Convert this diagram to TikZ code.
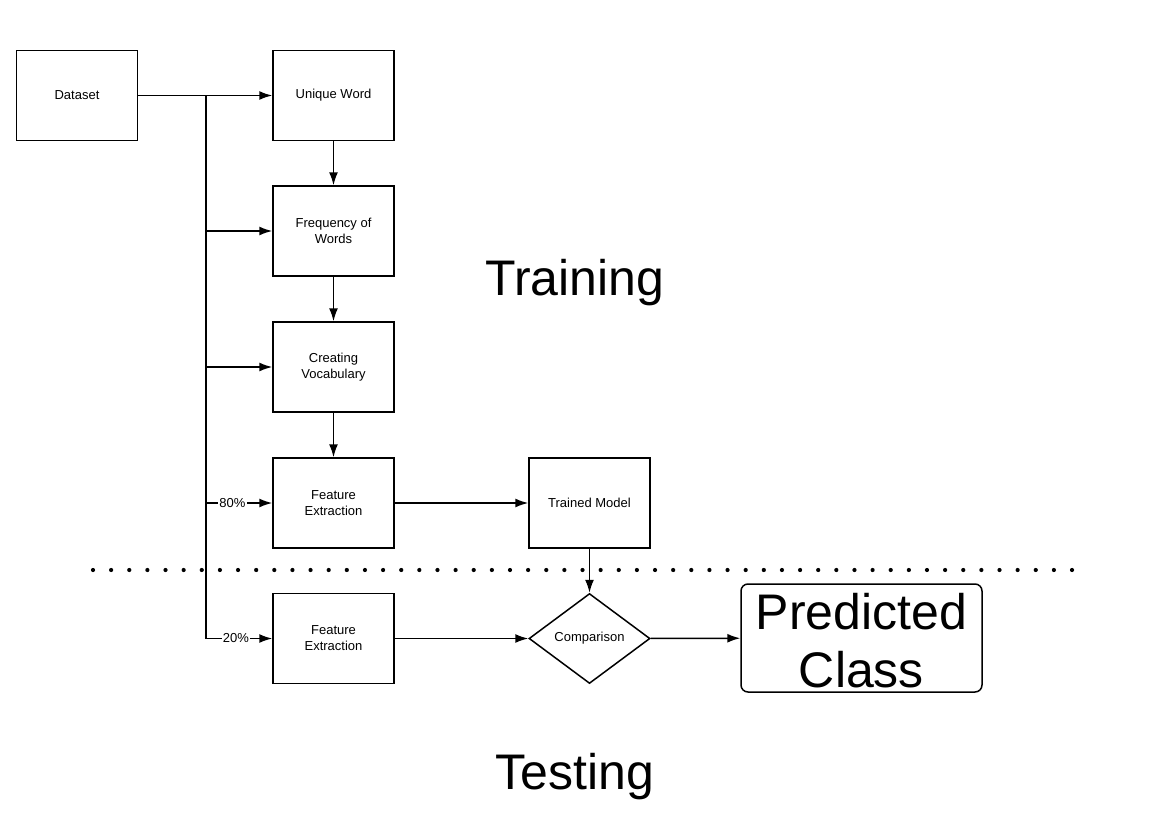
\documentclass[tikz,border=0pt]{standalone}
\usepackage{fontspec}
\setmainfont{Liberation Sans}
\usetikzlibrary{arrows.meta,shapes.geometric}
\begin{document}
\begin{tikzpicture}[x=1pt,y=-1pt,
  box/.style={draw,line width=1.5pt,minimum width=121pt,minimum height=90pt,align=center,font=\fontsize{13}{16}\selectfont,inner sep=0pt},
  conn/.style={line width=1.5pt,-{Latex[length=13pt,width=9pt]}},
  plain/.style={line width=1.5pt},
  pct/.style={fill=white,inner sep=1pt,font=\fontsize{13}{16}\selectfont},
  big/.style={font=\fontsize{50}{58}\selectfont,align=center}]
\useasboundingbox (0,0) rectangle (1154,827);
\node[box] (data) at (77,95.5) {Dataset};
\node[box] (uniq) at (333.5,95.5) {Unique Word};
\node[box] (freq) at (333.5,231) {Frequency of\\Words};
\node[box] (voc) at (333.5,367) {Creating\\Vocabulary};
\node[box] (fe1) at (333.5,503) {Feature\\Extraction};
\node[box] (tm) at (589.5,503) {Trained Model};
\node[box] (fe2) at (333.5,638.5) {Feature\\Extraction};
\node[draw,line width=1.5pt,diamond,aspect=1.344,minimum width=121pt,minimum height=90pt,inner sep=0pt,font=\fontsize{13}{16}\selectfont] (cmp) at (589.5,638.5) {Comparison};
\node[draw,line width=1.5pt,rounded corners=7pt,minimum width=241pt,minimum height=108pt,inner sep=0pt,
  label={[big,yshift=-3pt]center:Predicted\\Class}] (pc) at (861.5,638) {};
\node[big] (train) at (575,283) {Training};
\node[big] (test) at (575,777) {Testing};
% dotted separator
\foreach \i in {0,...,54} {\fill ({93+\i*18.13},570) circle (2.1pt);}
% connectors
\coordinate (top) at (206,95.5);
\coordinate (bot) at (206,638.5);
\draw[conn] (data) -- (uniq);
\draw[plain] (top) -- (bot);
\draw[conn] (206,231) -- (freq);
\draw[conn] (206,367) -- (voc);
\draw[conn] (206,503) -- (fe1) node[pct,pos=0.4] (p80) {80\%};
\draw[conn] (bot) -- (fe2) node[pct,pos=0.45] (p20) {20\%};
\draw[conn] (uniq) -- (freq);
\draw[conn] (freq) -- (voc);
\draw[conn] (voc) -- (fe1);
\draw[conn] (fe1) -- (tm);
\draw[conn] (tm) -- (cmp);
\draw[conn] (fe2) -- (cmp);
\draw[conn] (cmp) -- (pc);
\end{tikzpicture}
\end{document}
